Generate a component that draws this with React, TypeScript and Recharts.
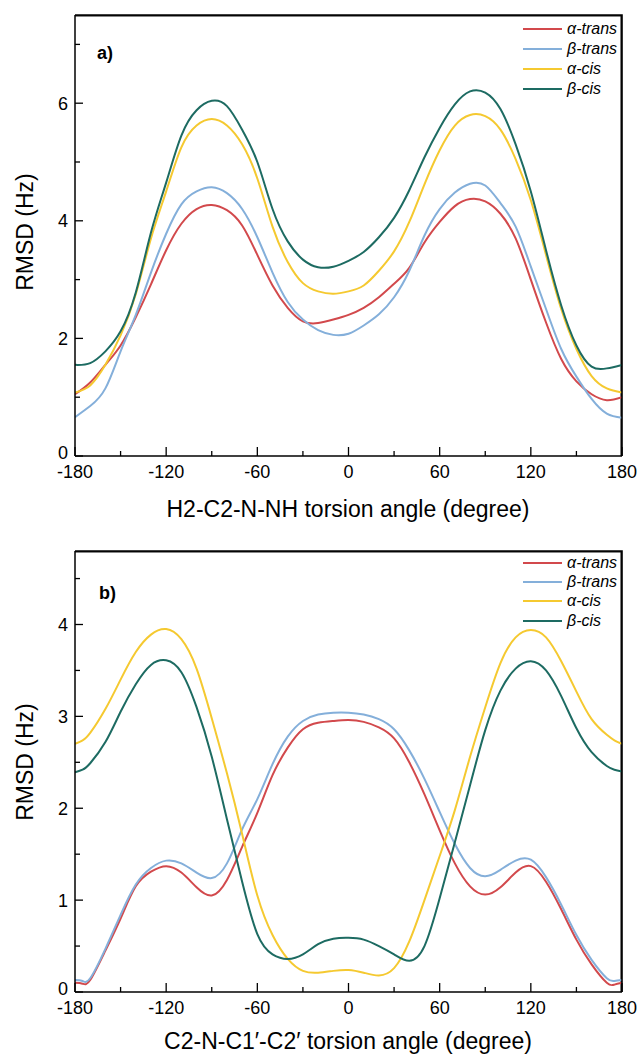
import React from 'react';
import { LineChart, Line, XAxis, YAxis, Legend, CartesianGrid } from 'recharts';

const FONT = '"Liberation Sans", Arial, Helvetica, sans-serif';

// ---------- Panel a: H2-C2-N-NH torsion ----------
const ANGLES_A = [-180, -170, -160, -150, -140, -130, -120, -110, -100, -90, -80, -70, -60, -50, -40, -30, -20, -10, 0, 10, 20, 30, 40, 50, 60, 70, 80, 90, 100, 110, 120, 130, 140, 150, 160, 170, 180];
const A_ALPHA_TRANS = [1.05, 1.25, 1.55, 1.88, 2.36, 2.92, 3.5, 3.95, 4.2, 4.27, 4.18, 3.92, 3.42, 2.9, 2.52, 2.29, 2.26, 2.32, 2.4, 2.52, 2.7, 2.93, 3.2, 3.63, 3.98, 4.25, 4.37, 4.33, 4.12, 3.7, 3.0, 2.27, 1.65, 1.27, 1.05, 0.95, 1.0];
const A_BETA_TRANS = [0.66, 0.85, 1.15, 1.78, 2.4, 3.12, 3.78, 4.28, 4.5, 4.57, 4.47, 4.2, 3.72, 3.12, 2.62, 2.32, 2.14, 2.06, 2.08, 2.22, 2.41, 2.7, 3.15, 3.75, 4.2, 4.48, 4.63, 4.6, 4.3, 3.9, 3.22, 2.5, 1.82, 1.35, 0.97, 0.72, 0.65];
const A_ALPHA_CIS = [1.08, 1.2, 1.55, 2.05, 2.75, 3.7, 4.5, 5.25, 5.62, 5.73, 5.62, 5.3, 4.72, 3.9, 3.3, 2.94, 2.8, 2.76, 2.8, 2.9, 3.15, 3.48, 3.98, 4.62, 5.2, 5.62, 5.8, 5.78, 5.55, 5.05, 4.35, 3.42, 2.5, 1.82, 1.36, 1.15, 1.08];
const A_BETA_CIS = [1.55, 1.58, 1.78, 2.12, 2.78, 3.8, 4.65, 5.45, 5.88, 6.04, 5.95, 5.55, 5.0, 4.2, 3.65, 3.34, 3.21, 3.22, 3.32, 3.47, 3.72, 4.05, 4.52, 5.08, 5.58, 5.98, 6.2, 6.18, 5.9, 5.3, 4.5, 3.5, 2.56, 1.88, 1.52, 1.49, 1.55];

// ---------- Panel b: C2-N-C1'-C2' torsion ----------
const ANGLES_B = [-180, -175, -170, -160, -150, -140, -130, -120, -110, -100, -90, -80, -70, -60, -50, -40, -30, -20, -10, 0, 10, 20, 30, 40, 50, 60, 70, 80, 90, 100, 110, 120, 130, 140, 150, 160, 170, 175, 180];
const B_ALPHA_TRANS = [0.1, 0.09, 0.13, 0.45, 0.8, 1.15, 1.31, 1.37, 1.3, 1.14, 1.05, 1.22, 1.58, 1.95, 2.36, 2.66, 2.86, 2.93, 2.95, 2.96, 2.94, 2.88, 2.76, 2.5, 2.15, 1.76, 1.4, 1.15, 1.06, 1.14, 1.3, 1.37, 1.2, 0.9, 0.57, 0.3, 0.1, 0.08, 0.1];
const B_BETA_TRANS = [0.13, 0.12, 0.15, 0.47, 0.84, 1.17, 1.35, 1.43, 1.4, 1.3, 1.24, 1.4, 1.77, 2.1, 2.48, 2.78, 2.95, 3.02, 3.04, 3.04, 3.02, 2.97, 2.86, 2.63, 2.32, 1.96, 1.61, 1.35, 1.26, 1.33, 1.43, 1.44, 1.25, 0.95, 0.62, 0.35, 0.15, 0.12, 0.13];
const B_ALPHA_CIS = [2.7, 2.74, 2.82, 3.08, 3.4, 3.7, 3.89, 3.95, 3.84, 3.52, 2.98, 2.38, 1.72, 1.05, 0.62, 0.36, 0.23, 0.21, 0.23, 0.24, 0.21, 0.18, 0.26, 0.55, 1.0, 1.48, 1.98, 2.56, 3.1, 3.58, 3.86, 3.94, 3.86, 3.6, 3.27, 2.97, 2.8, 2.74, 2.7];
const B_BETA_CIS = [2.39, 2.42, 2.49, 2.72, 3.05, 3.35, 3.56, 3.61, 3.48, 3.1, 2.56, 1.88, 1.2, 0.63, 0.41, 0.36, 0.41, 0.52, 0.58, 0.59, 0.57, 0.5, 0.41, 0.34, 0.5, 1.02, 1.63, 2.25, 2.85, 3.28, 3.52, 3.6, 3.5, 3.22, 2.87, 2.61, 2.46, 2.42, 2.4];

const X_TICKS = [-180, -150, -120, -90, -60, -30, 0, 30, 60, 90, 120, 150, 180];
const Y_TICKS_A = [0, 1, 2, 3, 4, 5, 6, 7];
const Y_TICKS_B = [0, 0.5, 1, 1.5, 2, 2.5, 3, 3.5, 4, 4.5];

const SERIES = [
  { key: 'aT', name: 'α-trans', color: '#D2494C' },
  { key: 'bT', name: 'β-trans', color: '#84AFDA' },
  { key: 'aC', name: 'α-cis', color: '#F5C930' },
  { key: 'bC', name: 'β-cis', color: '#1D6B62' },
];

const dataA = ANGLES_A.map((deg, i) => ({ deg, aT: A_ALPHA_TRANS[i], bT: A_BETA_TRANS[i], aC: A_ALPHA_CIS[i], bC: A_BETA_CIS[i] }));
const dataB = ANGLES_B.map((deg, i) => ({ deg, aT: B_ALPHA_TRANS[i], bT: B_BETA_TRANS[i], aC: B_ALPHA_CIS[i], bC: B_BETA_CIS[i] }));

const XTick = (props: any) => {
  const { x, y, payload } = props;
  const v = payload.value;
  const major = v % 60 === 0;
  return (
    <g>
      <line x1={x} y1={y} x2={x} y2={y - (major ? 9 : 5)} stroke="#000" strokeWidth={1.3} />
      {major && (
        <text x={x} y={y + 22} textAnchor="middle" fontSize={18} fontFamily={FONT} fill="#000">{String(v)}</text>
      )}
    </g>
  );
};

const makeYTick = (step: number) => (props: any) => {
  const { x, y, payload } = props;
  const v = payload.value;
  const major = Math.abs(v / step - Math.round(v / step)) < 1e-6;
  return (
    <g>
      <line x1={x} y1={y} x2={x + (major ? 8 : 5)} y2={y} stroke="#000" strokeWidth={1.3} />
      {major && (
        <text x={x - 7} y={y + (v === 0 ? 3 : 6.5)} textAnchor="end" fontSize={18} fontFamily={FONT} fill="#000">{String(v)}</text>
      )}
    </g>
  );
};

const YTickA = makeYTick(2);
const YTickB = makeYTick(1);

const makeLegend = (rowH: number) => () => (
  <div style={{ fontFamily: FONT, fontSize: 16, fontStyle: 'italic', color: '#000' }}>
    {SERIES.map((s) => (
      <div key={s.key} style={{ height: rowH, display: 'flex', alignItems: 'center', whiteSpace: 'nowrap' }}>
        <svg width={40} height={4} style={{ display: 'block' }}>
          <line x1={0} y1={2} x2={39} y2={2} stroke={s.color} strokeWidth={2} />
        </svg>
        <span style={{ marginLeft: 4, lineHeight: 1 }}>{s.name}</span>
      </div>
    ))}
  </div>
);

const LegendA = makeLegend(20);
const LegendB = makeLegend(19.3);

// frame (top and right borders) drawn by the grid just inside the plot edges
const topEdge = (p: any) => [p.offset.top + 0.75];
const rightEdge = (p: any) => [p.offset.left + p.offset.width - 0.75];

function Panel(props: { data: any[]; height: number; marginTop: number; xAxisHeight: number; yMax: number; yTicks: number[]; yTick: any; legend: any; legendTop: number }) {
  const { data, height, marginTop, xAxisHeight, yMax, yTicks, yTick, legend, legendTop } = props;
  const frame = { stroke: '#000', strokeWidth: 1.5 };
  return (
    <LineChart width={640} height={height} data={data} margin={{ top: marginTop, right: 18, bottom: 0, left: 0 }}>
      <CartesianGrid
        stroke="#111111"
        strokeWidth={1.6}
        strokeOpacity={1}
        fill="none"
        horizontalCoordinatesGenerator={topEdge}
        verticalCoordinatesGenerator={rightEdge}
      />
      <XAxis
        dataKey="deg"
        type="number"
        domain={[-180, 180]}
        ticks={X_TICKS}
        interval={0}
        height={xAxisHeight}
        tickSize={0}
        tickMargin={0}
        tickLine={false}
        axisLine={frame}
        tick={XTick}
        allowDataOverflow
      />
      <YAxis
        type="number"
        domain={[0, yMax]}
        ticks={yTicks}
        interval={0}
        width={75}
        tickSize={0}
        tickMargin={0}
        tickLine={false}
        axisLine={frame}
        tick={yTick}
        allowDataOverflow
      />
      <Legend
        layout="vertical"
        align="center"
        verticalAlign="middle"
        content={legend}
        wrapperStyle={{ top: legendTop, left: 523, width: 110 }}
      />
      {SERIES.map((s) => (
        <Line
          key={s.key}
          type="natural"
          dataKey={s.key}
          name={s.name}
          stroke={s.color}
          strokeWidth={2}
          dot={false}
          activeDot={false}
          isAnimationActive={false}
        />
      ))}
    </LineChart>
  );
}

export default function App() {
  return (
    <div style={{ position: 'absolute', left: 0, top: 0, width: 640, height: 1055, background: '#fff', overflow: 'hidden' }}>
      <div style={{ position: 'absolute', left: 0, top: 0 }}>
        <Panel data={dataA} height={530} marginTop={15} xAxisHeight={74} yMax={7.5} yTicks={Y_TICKS_A} yTick={YTickA} legend={LegendA} legendTop={19} />
      </div>
      <div style={{ position: 'absolute', left: 0, top: 530 }}>
        <Panel data={dataB} height={525} marginTop={21} xAxisHeight={63} yMax={4.8} yTicks={Y_TICKS_B} yTick={YTickB} legend={LegendB} legendTop={23} />
      </div>
      <svg width={640} height={1055} style={{ position: 'absolute', left: 0, top: 0, pointerEvents: 'none' }}>
        <path d="M75 15 H622 V456" fill="none" stroke="#000" strokeWidth={1.6} />
        <path d="M75 551 H622 V992" fill="none" stroke="#000" strokeWidth={1.6} />
        <text x={97} y={59} fontFamily={FONT} fontSize={18} fontWeight="bold" fill="#000">a)</text>
        <text x={99} y={599} fontFamily={FONT} fontSize={18} fontWeight="bold" fill="#000">b)</text>
        <text x={348} y={517} textAnchor="middle" fontFamily={FONT} fontSize={23} fill="#000">H2-C2-N-NH torsion angle (degree)</text>
        <text x={348} y={1049} textAnchor="middle" fontFamily={FONT} fontSize={23} fill="#000">C2-N-C1′-C2′ torsion angle (degree)</text>
        <text x={0} y={0} transform="translate(33 232) rotate(-90)" textAnchor="middle" fontFamily={FONT} fontSize={23} fill="#000">RMSD (Hz)</text>
        <text x={0} y={0} transform="translate(33 762) rotate(-90)" textAnchor="middle" fontFamily={FONT} fontSize={23} fill="#000">RMSD (Hz)</text>
      </svg>
    </div>
  );
}
